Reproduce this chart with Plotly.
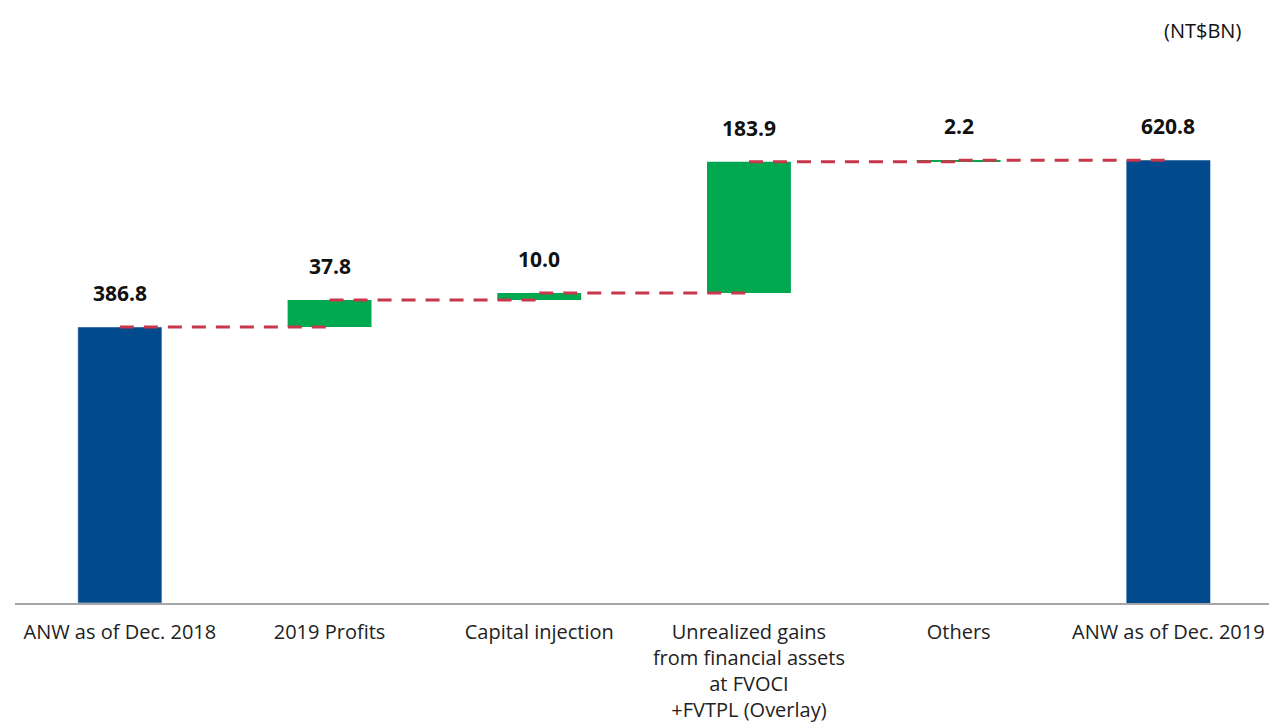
import plotly.graph_objects as go

# Adjusted net worth bridge, NT$ billions
categories = [
    "ANW as of Dec. 2018",
    "2019 Profits",
    "Capital injection",
    "Unrealized gains<br>from financial assets<br>at FVOCI<br>+FVTPL (Overlay)",
    "Others",
    "ANW as of Dec. 2019",
]
values = [386.8, 37.8, 10.0, 183.9, 2.2, 620.8]
measures = ["absolute", "relative", "relative", "relative", "relative", "total"]
labels = ["386.8", "37.8", "10.0", "183.9", "2.2", "620.8"]

BLUE = "#004A8D"
GREEN = "#00A94F"
RED = "#C8374A"

x_pos = list(range(len(categories)))

# running level after each step (used for label placement and connectors)
levels = []
running = 0.0
for v, m in zip(values, measures):
    if m == "absolute":
        running = v
    elif m == "relative":
        running += v
    levels.append(running)

fig = go.Figure()

fig.add_trace(go.Waterfall(
    x=x_pos,
    y=values[:-1] + [0],
    measure=measures,
    width=0.4,
    increasing=dict(marker=dict(color=GREEN)),
    decreasing=dict(marker=dict(color=GREEN)),
    totals=dict(marker=dict(color=BLUE)),
    connector=dict(visible=False),
    showlegend=False,
    hoverinfo="skip",
))
# first bar is an absolute total -> paint it blue as well
fig.add_trace(go.Bar(
    x=[x_pos[0]],
    y=[values[0]],
    width=0.4,
    marker_color=BLUE,
    showlegend=False,
    hoverinfo="skip",
))

# dashed connectors from center of one bar to center of the next
for i in range(len(categories) - 1):
    fig.add_trace(go.Scatter(
        x=[x_pos[i], x_pos[i + 1]],
        y=[levels[i], levels[i]],
        mode="lines",
        line=dict(color=RED, width=3, dash="14px,10px"),
        showlegend=False,
        hoverinfo="skip",
    ))

for i, txt in enumerate(labels):
    fig.add_annotation(
        x=x_pos[i], y=levels[i],
        text=f"<b>{txt}</b>",
        showarrow=False,
        yanchor="bottom",
        yshift=18,
        font=dict(size=21, color="#111111", family="Open Sans"),
    )

fig.add_annotation(
    xref="paper", yref="paper",
    x=1.0, y=1.0,
    xanchor="right", yanchor="bottom",
    xshift=-26, yshift=34,
    text="(NT$BN)",
    showarrow=False,
    font=dict(size=20, color="#111111", family="Open Sans"),
)

fig.update_layout(
    width=1269,
    height=727,
    margin=dict(l=15, r=0, t=80, b=124),
    plot_bgcolor="white",
    paper_bgcolor="white",
    barmode="overlay",
    font=dict(family="Open Sans", size=20, color="#222222"),
    xaxis=dict(
        range=[-0.5, 5.48],
        tickmode="array",
        tickvals=x_pos,
        ticktext=categories,
        showgrid=False,
        zeroline=False,
        showline=True,
        linecolor="#A6A6A6",
        linewidth=2,
        ticks="",
        automargin=False,
        ticklabelstandoff=10,
        tickfont=dict(size=20, family="Open Sans", color="#222222"),
    ),
    yaxis=dict(
        range=[0, 733],
        visible=False,
        showgrid=False,
        zeroline=False,
    ),
)

# drop the default page margin so the figure fills the window exactly
fig.write_html(
    "out.html",
    config={"displayModeBar": False},
    post_script="document.body.style.margin='0';document.body.style.overflow='hidden';",
)
